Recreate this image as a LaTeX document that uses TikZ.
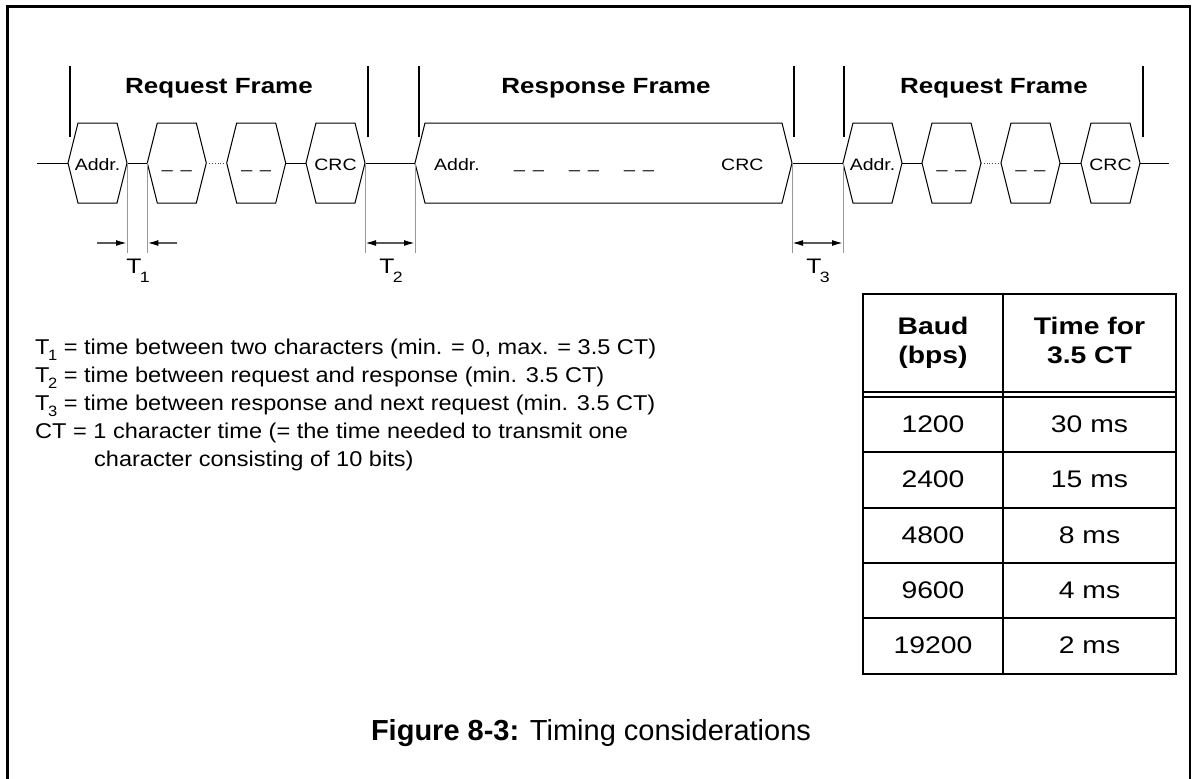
\documentclass[tikz,border=0pt]{standalone}
\usepackage{fontspec}
\setmainfont{Liberation Sans}[FakeStretch=1.18]
\newfontfamily\capfont{Liberation Sans}
\newfontfamily\legfont{Liberation Sans}[FakeStretch=1.1]
\usetikzlibrary{arrows.meta,calc}
\newcommand\fsz[1]{\fontsize{#1}{#1}\selectfont}
\newcommand\lsub[3]{\kern-1.5pt\raisebox{#2}{\fsz{#1}#3}}
\newcommand\dd{\raisebox{2pt}{\_\hspace{8pt}\_}}
\newcommand\hexa[4]{%
  \coordinate (#1-l) at (#2,163);
  \coordinate (#1-r) at (#3,163);
  \draw[sig] (#1-l) -- ($(#1-l)+(10,-40)$) -- ($(#1-r)+(-10,-40)$) -- (#1-r)
     -- ($(#1-r)+(-10,40)$) -- ($(#1-l)+(10,40)$) -- cycle;
  \node[lbl, anchor=base] (#1) at ($(#1-l)!0.5!(#1-r)+(0,7)$) {#4};
}
\tikzset{
  sig/.style={line width=1pt, black, line join=miter},
  wire/.style={line width=1pt, black},
  dotwire/.style={line width=0.8pt, black!70, dotted},
  framebar/.style={line width=2pt, black},
  guide/.style={line width=0.9pt, black!40},
  dimline/.style={line width=1.6pt, black!65},
  tip/.tip={Latex[length=11pt,width=6pt,color=black]},
  lbl/.style={font=\fsz{16.5}, inner sep=0pt},
  ftitle/.style={font=\fsz{22}\bfseries, inner sep=0pt, anchor=base},
  tlabel/.style={font=\fsz{21}, inner sep=0pt, anchor=base},
  legend/.style={font=\legfont\fsz{21.4}, inner sep=0pt, anchor=base west},
  tab/.style={line width=2pt, black},
  tabtxt/.style={font=\fsz{24}, inner sep=0pt, anchor=base},
  tabhead/.style={font=\fsz{24}\bfseries, inner sep=0pt, anchor=base},
}
\begin{document}
\begin{tikzpicture}[x=1pt, y=-1pt]
\useasboundingbox (0,0) rectangle (1192,779);
% outer frame (open at bottom)
\draw[line width=2.6pt] (7.3,781) -- (7.3,6.2) -- (1190,6.2) -- (1190,781);

% frame bars
\foreach \xb/\nm in {70/b1,368/b2,419/b3,794/b4,844/b5,1143/b6}{
  \coordinate (\nm-top) at (\xb,66);
  \coordinate (\nm-bot) at (\xb,137);
  \draw[framebar] (\nm-top) -- (\nm-bot);
}
\node[ftitle] (f1) at (219,93) {Request Frame};
\node[ftitle] (f2) at (606,93) {Response Frame};
\node[ftitle] (f3) at (994,93) {Request Frame};

% characters of the first request frame
\hexa{h1}{68}{127}{Addr.}
\hexa{h2}{147.3}{206.3}{\dd}
\hexa{h3}{226.7}{285.7}{\dd}
\hexa{h4}{306}{365}{CRC}
% response frame
\coordinate (r-l) at (415,163);
\coordinate (r-r) at (792,163);
\draw[sig] (r-l) -- ($(r-l)+(10,-40)$) -- ($(r-r)+(-10,-40)$) -- (r-r)
   -- ($(r-r)+(-10,40)$) -- ($(r-l)+(10,40)$) -- cycle;
\node[lbl, anchor=base west] (ra) at (434,170) {Addr.};
\node[lbl, anchor=base west] (rd1) at (514,170) {\dd};
\node[lbl, anchor=base west] (rd2) at (569,170) {\dd};
\node[lbl, anchor=base west] (rd3) at (624,170) {\dd};
\node[lbl, anchor=base west] (rc) at (721,170) {CRC};
% second request frame
\hexa{h5}{843}{902}{Addr.}
\hexa{h6}{922}{981}{\dd}
\hexa{h7}{1001}{1060}{\dd}
\hexa{h8}{1081}{1140}{CRC}

% idle line pieces
\coordinate (start) at (37,163);
\coordinate (stop) at (1169,163);
\draw[wire] (start) -- (h1-l);
\draw[wire] (h1-r) -- (h2-l);
\draw[dotwire] (h2-r) -- (h3-l);
\draw[wire] (h3-r) -- (h4-l);
\draw[wire] (h4-r) -- (r-l);
\draw[wire] (r-r) -- (h5-l);
\draw[wire] (h5-r) -- (h6-l);
\draw[dotwire] (h6-r) -- (h7-l);
\draw[wire] (h7-r) -- (h8-l);
\draw[wire] (h8-r) -- (stop);

% guide lines
\foreach \p in {h1-r,h2-l,h4-r,r-l,r-r,h5-l}{
  \draw[guide] (\p) -- ($(\p)+(0,90)$);
}

% dimension arrows
\coordinate (a1) at (97,243);
\coordinate (a2) at (177,243);
\draw[dimline, -tip] (a1) -- (a1 -| h1-r);
\draw[dimline, -tip] (a2) -- (a2 -| h2-l);
\coordinate (a3) at (0,243);
\draw[dimline, tip-tip] (a3 -| h4-r) -- (a3 -| r-l);
\draw[dimline, tip-tip] (a3 -| r-r) -- (a3 -| h5-l);

\node[tlabel] (T1) at (138,273) {T\lsub{15}{-9pt}{1}};
\node[tlabel] (T2) at (391,273) {T\lsub{15}{-9pt}{2}};
\node[tlabel] (T3) at (818,273) {T\lsub{15}{-9pt}{3}};

% legend
\node[legend] (l1) at (35,354) {T\lsub{15}{-6.5pt}{1} = time between two characters (min. = 0, max. = 3.5 CT)};
\node[legend] (l2) at (35,382) {T\lsub{15}{-6.5pt}{2} = time between request and response (min. 3.5 CT)};
\node[legend] (l3) at (35,410) {T\lsub{15}{-6.5pt}{3} = time between response and next request (min. 3.5 CT)};
\node[legend] (l4) at (35,438) {CT = 1 character time (= the time needed to transmit one};
\node[legend] (l5) at (94,466) {character consisting of 10 bits)};

% table
\draw[tab] (863,294) rectangle (1176,674);
\draw[tab] (1003,294) -- (1003,674);
\foreach \yy in {392,397,452,508,563,618}{
  \draw[tab] (863,\yy) -- (1176,\yy);
}
\node[tabhead] (hb1) at (933,334) {Baud};
\node[tabhead] (hb2) at (933,363) {(bps)};
\node[tabhead] (ht1) at (1089.5,334) {Time for};
\node[tabhead] (ht2) at (1089.5,363) {3.5 CT};
\foreach \yc/\ba/\tm [count=\i] in {432/1200/30 ms,487.5/2400/15 ms,543/4800/8 ms,598/9600/4 ms,653.5/19200/2 ms}{
  \node[tabtxt] (baud\i) at (933,\yc) {\ba};
  \node[tabtxt] (time\i) at (1089.5,\yc) {\tm};
}

% caption
\node[inner sep=0pt, anchor=base, font=\capfont\fsz{29}] (cap) at (591,740) {\textbf{Figure 8-3:} Timing considerations};
\end{tikzpicture}
\end{document}
